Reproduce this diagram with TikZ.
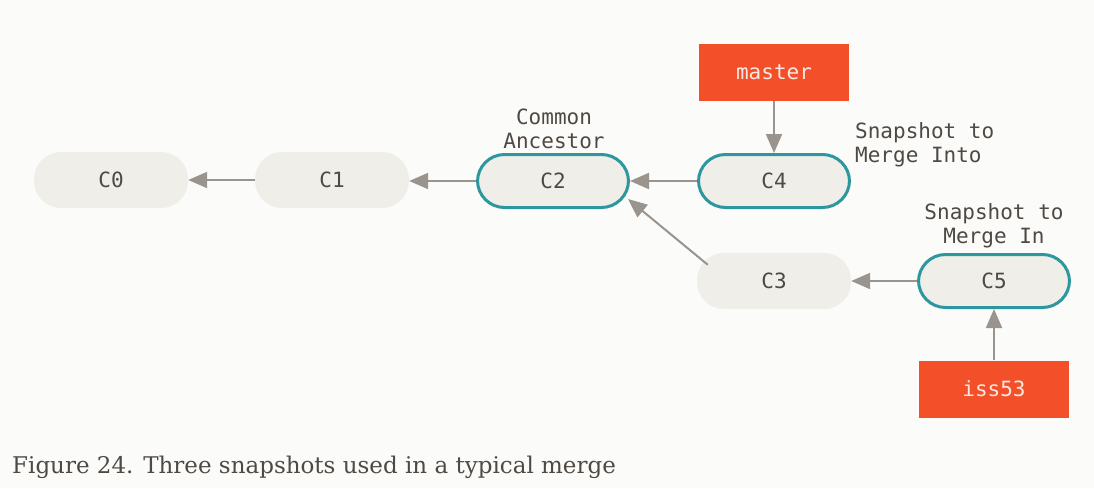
\documentclass[tikz,border=0pt]{standalone}
\usepackage{fontspec}
\setmonofont{DejaVu Sans Mono}
\newfontfamily\capfont{DejaVu Serif}
\usetikzlibrary{arrows.meta,calc}
\definecolor{bgc}{HTML}{FBFBF9}
\definecolor{nodefill}{HTML}{EFEEE8}
\definecolor{teal}{HTML}{2C979E}
\definecolor{arrowc}{HTML}{9A948E}
\definecolor{txt}{HTML}{4F4943}
\definecolor{branch}{HTML}{F34F29}
\definecolor{brtxt}{HTML}{F8E8E2}
\tikzset{
  commit/.style={rectangle, rounded corners=27pt, fill=nodefill, minimum width=154pt, minimum height=56pt, inner sep=0pt, font=\fontsize{21}{24}\selectfont\ttfamily, text=txt},
  keycommit/.style={commit, draw=teal, line width=3pt, minimum width=151pt, minimum height=53pt},
  branchbox/.style={rectangle, fill=branch, minimum width=150pt, minimum height=57pt, inner sep=0pt, font=\fontsize{21}{24}\selectfont\ttfamily, text=brtxt},
  note/.style={font=\fontsize{21}{24.5}\selectfont\ttfamily, text=txt, inner sep=0pt, align=center},
  link/.style={draw=arrowc, line width=2pt, -{Triangle[length=19pt,width=16pt]}}
}
\begin{document}
\begin{tikzpicture}[x=1pt,y=-1pt]
\fill[bgc] (0,0) rectangle (1094,488);
\useasboundingbox (0,0) rectangle (1094,488);
\node[commit] (C0) at (111,180) {C0};
\node[commit] (C1) at (332,180) {C1};
\node[keycommit] (C2) at (553,181) {C2};
\node[keycommit] (C4) at (774,181) {C4};
\node[commit] (C3) at (774,281) {C3};
\node[keycommit] (C5) at (994,281) {C5};
\node[branchbox] (master) at (774,72) {master};
\node[branchbox] (iss) at (994,389) {iss53};
\node[note] (anc) at (554,129) {Common\\Ancestor};
\node[note, align=left, anchor=west] (into) at (855,145) {Snapshot to\\Merge Into};
\node[note] (in) at (994,226) {Snapshot to\\Merge In};
\node[anchor=base west, inner sep=0pt, text=txt, font=\capfont\fontsize{23}{26}\selectfont] (cap) at (12,473) {Figure 24. Three snapshots used in a typical merge};
\draw[link] (C1.west) -- (C0.east);
\draw[link] (C2.west) -- (C2.west -| C1.east);
\draw[link] (C4.west) -- (C4.west -| C2.east);
\draw[link] (C5.west) -- (C5.west -| C3.east);
\draw[link] (master.south) -- (C4.north);
\draw[link] (iss.north) -- (C5.south);
\coordinate (c3a) at ($(C3.north west)+(11,12)$);
\coordinate (c2a) at ($(C2.south east)+(-2,-10)$);
\draw[link] (c3a) -- (c2a);
\end{tikzpicture}
\end{document}
